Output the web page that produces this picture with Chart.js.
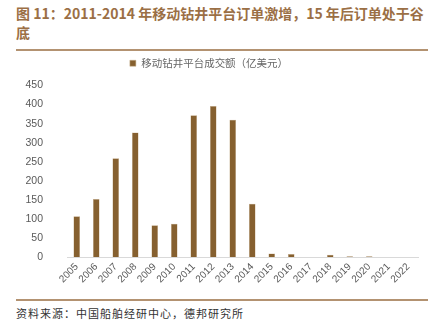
<!DOCTYPE html>
<html>
<head>
<meta charset="utf-8">
<script src="https://cdn.jsdelivr.net/npm/chart.js@4/dist/chart.umd.min.js"></script>
<style>
  body { margin: 0; background: #fff; width: 439px; height: 327px; overflow: hidden; font-family: "Noto Sans CJK SC", sans-serif; }
  #title { position: absolute; left: 16px; top: 4px; width: 416px; font-size: 14px; font-weight: bold; color: #9b6f45; line-height: 19px; }
  #rule1 { position: absolute; left: 16px; top: 49px; width: 412px; height: 2px; background: #b39271; }
  #wrap { position: absolute; left: 0; top: 52px; width: 439px; height: 246px; }
  #rule2 { position: absolute; left: 16px; top: 299px; width: 412px; height: 1.5px; background: #b39271; }
  #source { position: absolute; left: 16px; top: 305px; font-size: 11px; color: #333; letter-spacing: 1px; }
</style>
</head>
<body>
<div id="title">图 11：2011-2014 年移动钻井平台订单激增，15 年后订单处于谷底</div>
<div id="rule1"></div>
<div id="wrap"><canvas id="chart"></canvas></div>
<div id="rule2"></div>
<div id="source">资料来源：中国船舶经研中心，德邦研究所</div>
<script>
const years = ['2005','2006','2007','2008','2009','2010','2011','2012','2013','2014','2015','2016','2017','2018','2019','2020','2021','2022'];
const orderValue = [107, 152, 259, 327, 83, 87, 372, 396, 360, 140, 9, 8, 0, 6, 2, 2, 0, 0];
const seriesName = '移动钻井平台成交额（亿美元）';
const yTicks = [0, 50, 100, 150, 200, 250, 300, 350, 400, 450];

// extra room under the legend
const legendGap = {
    id: 'legendGap',
    beforeUpdate(chart) {
        const lg = chart.legend;
        if (lg && !lg._gapDone) {
            const fit = lg.fit;
            lg.fit = function () { fit.call(this); this.height += 7; };
            lg._gapDone = true;
        }
    }
};

const ctx = document.getElementById('chart');
new Chart(ctx, {
    type: 'bar',
    data: {
        labels: years,
        datasets: [{
            label: seriesName,
            data: orderValue,
            backgroundColor: '#86602f',
            borderColor: '#c9b08f',
            borderWidth: 0.5,
            barPercentage: 0.34,
            categoryPercentage: 1
        }]
    },
    plugins: [legendGap],
    options: {
        responsive: true,
        maintainAspectRatio: false,
        animation: false,
        layout: { padding: { left: 0, right: 21, top: 0, bottom: 0 } },
        plugins: {
            legend: {
                position: 'top',
                labels: {
                    boxWidth: 6, boxHeight: 6,
                    color: '#666666',
                    font: { size: 10.5, family: '"Noto Sans CJK SC"' },
                    padding: 6
                }
            },
            tooltip: { enabled: false }
        },
        scales: {
            x: {
                grid: { display: false, drawTicks: false },
                border: { color: '#d9d9d9' },
                afterFit: axis => { axis.height = 41; },
                ticks: {
                    color: '#595959',
                    font: { size: 10, family: 'Arial, "Liberation Sans"' },
                    autoSkip: false,
                    maxRotation: 45, minRotation: 45,
                    padding: 4
                }
            },
            y: {
                min: 0, max: 450,
                afterBuildTicks: axis => { axis.ticks = yTicks.map(v => ({ value: v })); },
                afterFit: axis => { axis.width = 67; },
                grid: { display: false },
                border: { display: false },
                ticks: {
                    color: '#595959',
                    font: { size: 10.5, family: 'Arial, "Liberation Sans"' },
                    padding: 16
                }
            }
        }
    }
});
</script>
</body>
</html>
